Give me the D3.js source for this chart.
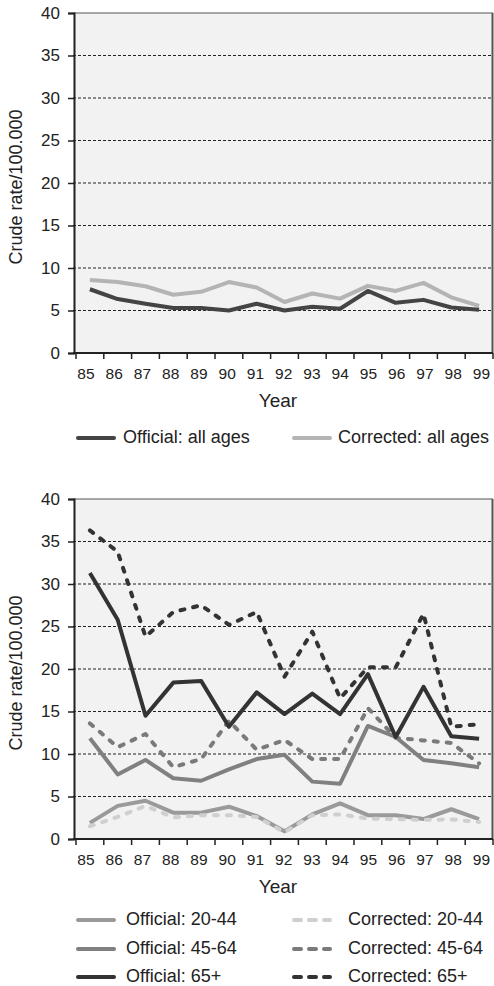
<!DOCTYPE html>
<html><head><meta charset="utf-8">
<script src="https://cdn.jsdelivr.net/npm/d3@7"></script>
<style>body{margin:0;background:#fff}svg{display:block}text{font-family:"Liberation Sans",Arial,sans-serif;fill:#222}</style>
</head><body>
<script>
const years = ["85","86","87","88","89","90","91","92","93","94","95","96","97","98","99"];
const yTicks = [0,5,10,15,20,25,30,35,40];

const officialAll  = [7.5,6.35,5.8,5.3,5.3,5.0,5.8,5.0,5.45,5.2,7.3,5.9,6.25,5.35,5.1];
const correctedAll = [8.6,8.35,7.85,6.85,7.2,8.35,7.7,6.0,7.0,6.4,7.9,7.3,8.25,6.55,5.55];

const official2044  = [1.9,3.9,4.5,3.1,3.1,3.8,2.7,0.9,2.9,4.2,2.8,2.8,2.35,3.5,2.35];
const official4564  = [11.85,7.6,9.3,7.15,6.85,8.2,9.4,9.9,6.75,6.5,13.3,12.0,9.3,8.9,8.45];
const official65    = [31.3,25.8,14.5,18.4,18.6,13.2,17.25,14.7,17.1,14.7,19.4,12.0,17.9,12.1,11.8];
const corrected2044 = [1.5,2.6,3.9,2.55,2.8,2.8,2.6,0.8,2.8,2.9,2.4,2.35,2.25,2.3,2.0];
const corrected4564 = [13.6,10.8,12.35,8.45,9.4,13.9,10.5,11.65,9.4,9.4,15.4,11.9,11.6,11.3,8.9];
const corrected65   = [36.3,33.8,23.8,26.7,27.5,25.2,26.7,19.1,24.4,16.55,20.2,20.2,26.5,13.2,13.5];

const W=494,H=986;
const svg=d3.select("body").append("svg").attr("width",W).attr("height",H);
const x=d3.scaleBand().domain(years).range([76,493]).padding(0);
const DASH="4,9";

function panel(top, series){
  const y=d3.scaleLinear().domain([0,40]).range([top+340,top]);
  const g=svg.append("g");
  g.append("rect").attr("x",73).attr("y",top).attr("width",420).attr("height",340).attr("fill","#f2f2f2");
  g.selectAll(".grid").data(yTicks.filter(t=>t>0&&t<40)).enter().append("line")
    .attr("x1",73).attr("x2",493).attr("y1",d=>y(d)).attr("y2",d=>y(d))
    .attr("stroke","#222").attr("stroke-width",1).attr("stroke-dasharray","3,2");
  g.append("line").attr("x1",73).attr("x2",493).attr("y1",top).attr("y2",top).attr("stroke","#555").attr("stroke-width",1);
  g.append("line").attr("x1",492.5).attr("x2",492.5).attr("y1",top).attr("y2",top+340).attr("stroke","#555").attr("stroke-width",2);
  const ya=g.append("g").attr("transform","translate(74,0)").call(d3.axisLeft(y).tickValues(yTicks).tickSize(6).tickPadding(8));
  ya.select(".domain").attr("stroke","#222").attr("stroke-width",2);
  ya.selectAll(".tick line").attr("stroke","#222").attr("stroke-width",1.5);
  ya.selectAll("text").attr("font-size",17).attr("fill","#222").style("font-family","Liberation Sans, Arial, sans-serif");
  const xa=g.append("g").attr("transform",`translate(0,${top+340})`);
  xa.append("line").attr("x1",73).attr("x2",493).attr("stroke","#222").attr("stroke-width",2);
  const edges=years.map(d=>x(d)).concat([x(years[years.length-1])+x.bandwidth()]);
  xa.selectAll(".xt").data(edges).enter().append("line").attr("x1",d=>d).attr("x2",d=>d).attr("y1",0).attr("y2",6)
    .attr("stroke","#222").attr("stroke-width",1.5);
  xa.selectAll(".xl").data(years).enter().append("text")
    .attr("x",(d,i)=>x(d)+x.bandwidth()/2-4+i*0.45).attr("y",26).attr("text-anchor","middle").attr("font-size",15.5).text(d=>d);
  g.append("text").attr("x",278).attr("y",top+340+54).attr("text-anchor","middle").attr("font-size",19).text("Year");
  g.append("text").attr("transform",`translate(22,${top+174}) rotate(-90)`).attr("text-anchor","middle").attr("font-size",18).text("Crude rate/100.000");
  const line=d3.line().x((d,i)=>x(years[i])+x.bandwidth()/2).y(d=>y(d));
  series.forEach(s=>{
    g.append("path").datum(s.values).attr("d",line).attr("fill","none").attr("stroke",s.color)
      .attr("stroke-width",4).attr("stroke-linejoin","round").attr("stroke-linecap",s.dash?"round":"butt")
      .attr("stroke-dasharray",s.dash?DASH:null);
  });
}

const topSeries=[
  {name:"Corrected: all ages",values:correctedAll,color:"#b4b4b4"},
  {name:"Official: all ages",values:officialAll,color:"#444444"}
];
const botSeries=[
  {name:"Official: 20-44",values:official2044,color:"#9a9a9a"},
  {name:"Corrected: 20-44",values:corrected2044,color:"#cfcfcf",dash:true},
  {name:"Official: 45-64",values:official4564,color:"#808080"},
  {name:"Corrected: 45-64",values:corrected4564,color:"#7a7a7a",dash:true},
  {name:"Corrected: 65+",values:corrected65,color:"#333333",dash:true},
  {name:"Official: 65+",values:official65,color:"#333333"}
];
panel(13,topSeries);
panel(499,botSeries);

function legendItem(x0,yc,s,tx){
  svg.append("line").attr("x1",x0+2).attr("x2",x0+38).attr("y1",yc).attr("y2",yc).attr("stroke",s.color)
    .attr("stroke-width",4).attr("stroke-linecap","round").attr("stroke-dasharray",s.dash?"7,8":null);
  svg.append("text").attr("x",tx).attr("y",yc+5).attr("font-size",18).text(s.name);
}
legendItem(76,438,topSeries[1],123);
legendItem(292,438,topSeries[0],338);
const byName=n=>botSeries.find(s=>s.name===n);
legendItem(76,920,byName("Official: 20-44"),126);
legendItem(76,949,byName("Official: 45-64"),126);
legendItem(76,977,byName("Official: 65+"),126);
legendItem(292,920,byName("Corrected: 20-44"),348);
legendItem(292,949,byName("Corrected: 45-64"),348);
legendItem(292,977,byName("Corrected: 65+"),348);
</script>
</body></html>
